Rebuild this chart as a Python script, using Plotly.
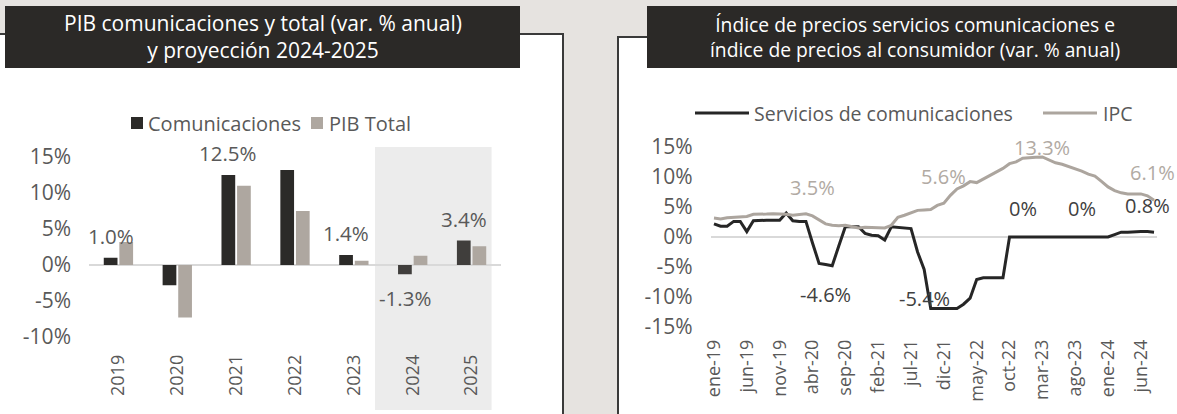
import plotly.graph_objects as go

W, H = 1177, 414

# ---- datos: PIB (var. % anual) ----
anios = ["2019", "2020", "2021", "2022", "2023", "2024", "2025"]
pib_comunicaciones = [1.0, -2.8, 12.5, 13.2, 1.4, -1.3, 3.4]
pib_total = [3.2, -7.3, 11.0, 7.5, 0.6, 1.3, 2.6]
etiq_comunicaciones = [0, 2, 4, 5, 6]  # barras con etiqueta
ticks_pib = [-10, -5, 0, 5, 10, 15]

# ---- datos: índices de precios (var. % anual), ene-19 a ago-24 ----
abrev = ["ene", "feb", "mar", "abr", "may", "jun",
         "jul", "ago", "sep", "oct", "nov", "dic"]
meses = [f"{m}-{a}" for a in range(19, 25) for m in abrev][:68]
servicios_com = [
    2.2, 1.8, 1.8, 2.6, 2.6, 0.9, 2.7, 2.8, 2.8, 2.8, 2.8, 4.0,
    2.7, 2.6, 2.6, -1.0, -4.4, -4.6, -4.8, -1.5, 1.7, 1.7, 1.7, 0.6,
    0.3, 0.2, -0.5, 1.7, 1.6, 1.4, 1.4, -2.5, -5.4, -11.9, -11.9, -11.9,
    -11.9, -11.9, -11.2, -10.2, -7.1, -6.8, -6.8, -6.8, -6.8, 0.0, 0.0, 0.0,
    0.0, 0.0, 0.0, 0.0, 0.0, 0.0, 0.0, 0.0, 0.0, 0.0, 0.0, 0.0,
    0.0, 0.4, 0.8, 0.8, 0.9, 0.9, 0.9, 0.8,
]
ipc = [
    3.15, 3.01, 3.21, 3.25, 3.31, 3.43, 3.79, 3.75, 3.82, 3.86, 3.84, 3.80,
    3.62, 3.72, 3.86, 3.51, 2.85, 2.19, 1.97, 1.88, 1.97, 1.75, 1.49, 1.61,
    1.60, 1.56, 1.51, 1.95, 3.30, 3.63, 3.97, 4.44, 4.51, 4.58, 5.26, 5.62,
    6.94, 8.01, 8.53, 9.23, 9.07, 9.67, 10.21, 10.84, 11.44, 12.22, 12.53, 13.12,
    13.25, 13.28, 13.34, 12.82, 12.36, 12.13, 11.78, 11.43, 10.99, 10.48, 10.15, 9.28,
    8.35, 7.74, 7.36, 7.16, 7.16, 7.18, 6.86, 6.12,
]
etiq_servicios = [17, 32, 47, 56, 67]
etiq_ipc = [15, 35, 50, 67]
ticks_precios = [-15, -10, -5, 0, 5, 10, 15]

# colores
C_OSC = "#2b2a28"
C_GRIS = "#aea7a0"
C_TXT = "#595959"
C_FONDO = "#e6e3e0"
FUENTE = "Open Sans"


def px(x):
    return x / W


def py(y):
    return 1 - y / H


fig = go.Figure()

# barras
col_com = [C_OSC] * 5 + ["#403e3c"] * 2
fig.add_trace(go.Bar(x=anios, y=pib_comunicaciones, name="Comunicaciones",
                     marker=dict(color=col_com, line_width=0),
                     xaxis="x", yaxis="y", showlegend=False))
fig.add_trace(go.Bar(x=anios, y=pib_total, name="PIB Total",
                     marker=dict(color=C_GRIS, line_width=0),
                     xaxis="x", yaxis="y", showlegend=False))

# líneas
fig.add_trace(go.Scatter(x=meses, y=servicios_com, mode="lines",
                         name="Servicios de comunicaciones",
                         line=dict(color="#262626", width=3),
                         xaxis="x2", yaxis="y2", showlegend=False))
fig.add_trace(go.Scatter(x=meses, y=ipc, mode="lines", name="IPC",
                         line=dict(color="#aca59e", width=3),
                         xaxis="x2", yaxis="y2", showlegend=False))

shapes = [
    # paneles blancos
    dict(type="rect", xref="paper", yref="paper", x0=px(-5), x1=px(563),
         y0=py(34), y1=py(430), fillcolor="white",
         line=dict(color="#3a3a3a", width=2), layer="below"),
    dict(type="rect", xref="paper", yref="paper", x0=px(618), x1=px(1190),
         y0=py(37), y1=py(430), fillcolor="white",
         line=dict(color="#3a3a3a", width=2), layer="below"),
    # cajas de título
    dict(type="rect", xref="paper", yref="paper", x0=px(5), x1=px(520),
         y0=py(6), y1=py(68), fillcolor="#2b2927", line_width=0),
    dict(type="rect", xref="paper", yref="paper", x0=px(647), x1=px(1185),
         y0=py(6), y1=py(68), fillcolor="#2b2927", line_width=0),
    # zona de proyección
    dict(type="rect", xref="x", yref="paper", x0=4.36, x1=6.34,
         y0=py(147), y1=py(410), fillcolor="#ececec", line_width=0,
         layer="below"),
    # leyenda barras
    dict(type="rect", xref="paper", yref="paper", x0=px(131), x1=px(143),
         y0=py(117), y1=py(129), fillcolor=C_OSC, line_width=0),
    dict(type="rect", xref="paper", yref="paper", x0=px(311), x1=px(323),
         y0=py(117), y1=py(129), fillcolor=C_GRIS, line_width=0),
    # leyenda líneas
    dict(type="line", xref="paper", yref="paper", x0=px(695), x1=px(749),
         y0=py(113), y1=py(113), line=dict(color="#262626", width=3)),
    dict(type="line", xref="paper", yref="paper", x0=px(1043), x1=px(1097),
         y0=py(113), y1=py(113), line=dict(color="#aca59e", width=3)),
]


def texto(t, x, y, size=19, color=C_TXT, xanchor="center"):
    return dict(text=t, x=px(x), y=py(y), xref="paper", yref="paper",
                xanchor=xanchor, yanchor="middle", showarrow=False,
                font=dict(family=FUENTE, size=size, color=color))


ann = [
    texto("PIB comunicaciones y total (var. % anual)<br>y proyección 2024-2025",
          263, 37, size=21, color="white"),
    texto("Índice de precios servicios comunicaciones e<br>"
          "índice de precios al consumidor (var. % anual)",
          915, 37, size=19.3, color="white"),
    texto("Comunicaciones", 146, 123, size=20, xanchor="left"),
    texto("PIB Total", 327, 123, size=20, xanchor="left"),
    texto("Servicios de comunicaciones", 752, 113, size=19.5, xanchor="left"),
    texto("IPC", 1101, 113, size=19.5, xanchor="left"),
]

# etiquetas de barras
for i in etiq_comunicaciones:
    v = pib_comunicaciones[i]
    ann.append(dict(text=f"{v:.1f}%", x=i - 0.13, y=v, xref="x", yref="y",
                    xanchor="center", yanchor="middle", showarrow=False,
                    yshift=22 if v >= 0 else -24,
                    font=dict(family=FUENTE, size=20.5, color=C_TXT)))

# etiquetas de líneas
desp_serv = {17: (0, -30), 32: (0, -29), 47: (0, 29), 56: (0, 29), 67: (-7, 27)}
for i in etiq_servicios:
    v = servicios_com[i]
    dx, dy = desp_serv[i]
    ann.append(dict(text=f"{v:g}%", x=i, y=v, xref="x2", yref="y2",
                    xanchor="center", yanchor="middle", showarrow=False,
                    xshift=dx, yshift=dy,
                    font=dict(family=FUENTE, size=20, color="#404040")))
desp_ipc = {15: (0, 28), 35: (0, 27), 50: (0, 9), 67: (-2, 28)}
for i in etiq_ipc:
    v = ipc[i]
    dx, dy = desp_ipc[i]
    ann.append(dict(text=f"{round(v, 1):g}%", x=i, y=v, xref="x2", yref="y2",
                    xanchor="center", yanchor="middle", showarrow=False,
                    xshift=dx, yshift=dy,
                    font=dict(family=FUENTE, size=20, color="#b1aaa3")))

eje_fuente = dict(family=FUENTE, size=21, color=C_TXT)
eje_x_fuente = dict(family=FUENTE, size=18, color=C_TXT)

fig.update_layout(
    template="none",
    width=W, height=H, autosize=False,
    margin=dict(l=0, r=0, t=0, b=0, pad=0),
    paper_bgcolor=C_FONDO,
    plot_bgcolor="rgba(0,0,0,0)",
    showlegend=False,
    barmode="group", bargap=0.47, bargroupgap=0.12,
    shapes=shapes, annotations=ann,
    xaxis=dict(domain=[px(89), px(501)], range=[-0.5, 6.5], type="category",
               anchor="y", tickangle=-90, showgrid=False, showline=False,
               zeroline=False, ticks="", automargin=False,
               ticklabelstandoff=6, tickfont=eje_x_fuente),
    yaxis=dict(domain=[py(344.2), py(146.2)], range=[-11, 16.5], anchor="x",
               tickmode="array", tickvals=ticks_pib,
               ticktext=[f"{v}%" for v in ticks_pib],
               showgrid=False, showline=False, ticks="", zeroline=True,
               zerolinecolor="#d9d9d9", zerolinewidth=2, automargin=False,
               ticklabelstandoff=17, tickfont=eje_fuente),
    xaxis2=dict(domain=[px(710.7), px(1157.3)], range=[-0.5, 67.5],
                type="category", anchor="y2", tickmode="array",
                tickvals=meses[::5], ticktext=meses[::5], tickangle=-90,
                showgrid=False, showline=False, zeroline=False, ticks="",
                automargin=False, ticklabelstandoff=8, tickfont=eje_x_fuente),
    yaxis2=dict(domain=[py(327), py(147)], range=[-15, 15], anchor="x2",
                tickmode="array", tickvals=ticks_precios,
                ticktext=[f"{v}%" for v in ticks_precios],
                showgrid=False, showline=False, ticks="", zeroline=True,
                zerolinecolor="#d9d9d9", zerolinewidth=2, automargin=False,
                ticklabelstandoff=17, tickfont=eje_fuente),
)

# sin margen del body para que la figura ocupe la ventana completa
fig.write_html("out.html",
               config={"displayModeBar": False},
               post_script="document.body.style.margin='0';"
                           "document.body.style.overflow='hidden';")
